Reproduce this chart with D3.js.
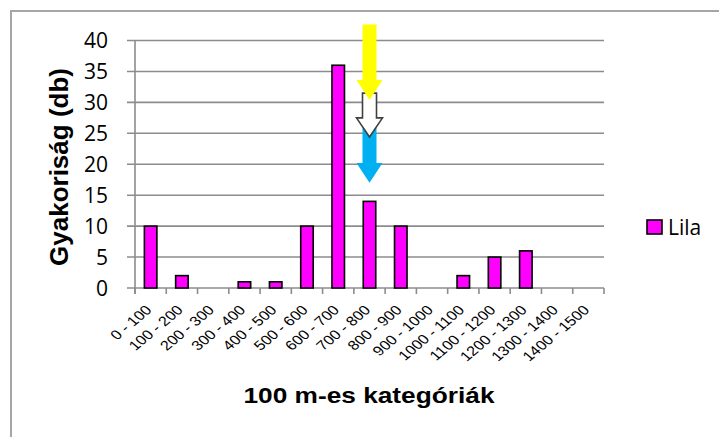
<!DOCTYPE html>
<html>
<head>
<meta charset="utf-8">
<script src="https://cdn.jsdelivr.net/npm/d3@7"></script>
<style>
  body { margin: 0; background: #fff; }
  svg { display: block; }
</style>
</head>
<body>
<script>
// categories on the x axis
const categories = [
  "0 - 100", "100 - 200", "200 - 300", "300 - 400", "400 - 500",
  "500 - 600", "600 - 700", "700 - 800", "800 - 900", "900 - 1000",
  "1000 - 1100", "1100 - 1200", "1200 - 1300", "1300 - 1400", "1400 - 1500",
];
// Lila counts
const counts = [10, 2, 0, 1, 1, 10, 36, 14, 10, 0, 2, 5, 6, 0, 0];
const yTicks = [0, 5, 10, 15, 20, 25, 30, 35, 40];
const seriesName = "Lila";
const yTitle = "Gyakoriság (db)";
const xTitle = "100 m-es kategóriák";

// annotation arrows, in y units: shaft top, head start, tip
const arrowCats = ["700 - 800", "700 - 800", "700 - 800"];
const arrowTop = [26.0, 31.5, 42.6];
const arrowNeck = [20.2, 27.5, 33.6];
const arrowTip = [17.0, 24.4, 30.4];

const W = 719, H = 437;
const margin = { top: 40.5, right: 115, bottom: 149, left: 135 };

const svg = d3.select("body").append("svg")
  .attr("width", W)
  .attr("height", H);

// outer frame of the chart area
svg.append("rect")
  .attr("x", 11).attr("y", 11)
  .attr("width", 730).attr("height", 450)
  .attr("fill", "#fff")
  .attr("stroke", "#a6a6a6")
  .attr("stroke-width", 2);

const x = d3.scaleBand()
  .domain(categories)
  .range([margin.left, W - margin.right]);

const y = d3.scaleLinear()
  .domain([0, 40])
  .range([H - margin.bottom, margin.top]);

const gridColor = "#8c8c8c";

// gridlines + y tick marks
svg.append("g")
  .selectAll("line")
  .data(yTicks)
  .join("line")
  .attr("x1", margin.left - 8)
  .attr("x2", W - margin.right)
  .attr("y1", (d) => y(d))
  .attr("y2", (d) => y(d))
  .attr("stroke", gridColor)
  .attr("stroke-width", 1.6);

// y axis line
svg.append("line")
  .attr("x1", margin.left).attr("x2", margin.left)
  .attr("y1", y(40)).attr("y2", y(0) + 6)
  .attr("stroke", gridColor)
  .attr("stroke-width", 1.6);

// x tick marks at band edges
const edges = categories.map((c) => x(c)).concat([x.range()[1]]);
svg.append("g")
  .selectAll("line")
  .data(edges)
  .join("line")
  .attr("x1", (d) => d).attr("x2", (d) => d)
  .attr("y1", y(0)).attr("y2", y(0) + 6)
  .attr("stroke", gridColor)
  .attr("stroke-width", 1.6);

// y tick labels
svg.append("g")
  .selectAll("text")
  .data(yTicks)
  .join("text")
  .attr("x", 108)
  .attr("y", (d) => y(d))
  .attr("dy", "0.36em")
  .attr("text-anchor", "end")
  .style("font-family", "'Open Sans', sans-serif")
  .style("font-size", "21px")
  .attr("fill", "#000")
  .text((d) => d);

// bars
const barW = x.bandwidth() * 0.4;
svg.append("g")
  .selectAll("rect")
  .data(counts)
  .join("rect")
  .attr("x", (d, i) => x(categories[i]) + (x.bandwidth() - barW) / 2)
  .attr("width", barW)
  .attr("y", (d) => y(d))
  .attr("height", (d) => y(0) - y(d))
  .attr("fill", "#ff00ff")
  .attr("stroke", "#000")
  .attr("stroke-width", (d) => (d > 0 ? 1.6 : 0));

// x tick labels, rotated (the original picture is a bit stretched sideways)
svg.append("g")
  .selectAll("text")
  .data(categories)
  .join("text")
  .attr("transform", (d) => "translate(" + (x(d) + x.bandwidth() / 2 + 2) + "," + (y(0) + 23) + ") scale(1.2,1) rotate(-45)")
  .attr("text-anchor", "end")
  .style("font-family", "'Liberation Sans', Arial, sans-serif")
  .style("font-size", "13.5px")
  .attr("fill", "#000")
  .text((d) => d);

// axis titles
svg.append("text")
  .attr("transform", "translate(68,167) rotate(-90)")
  .attr("text-anchor", "middle")
  .style("font-family", "'Liberation Sans', Arial, sans-serif")
  .style("font-size", "26px")
  .style("font-weight", "bold")
  .text(yTitle);

svg.append("text")
  .attr("x", 369)
  .attr("y", 403)
  .attr("text-anchor", "middle")
  .attr("textLength", 251)
  .attr("lengthAdjust", "spacingAndGlyphs")
  .style("font-family", "'Liberation Sans', Arial, sans-serif")
  .style("font-size", "22px")
  .style("font-weight", "bold")
  .text(xTitle);

// arrows (drawn blue, white, yellow so yellow sits on top)
const arrowFill = ["#00b0f0", "#ffffff", "#ffff00"];
const arrowStroke = ["none", "#404040", "none"];
const shaftHalf = 7, headHalf = 13;
arrowCats.forEach((c, i) => {
  const cx = x(c) + x.bandwidth() / 2;
  const t = y(arrowTop[i]), n = y(arrowNeck[i]), p = y(arrowTip[i]);
  const pts = [
    [cx - shaftHalf, t], [cx + shaftHalf, t], [cx + shaftHalf, n],
    [cx + headHalf, n], [cx, p], [cx - headHalf, n], [cx - shaftHalf, n],
  ];
  svg.append("path")
    .attr("d", d3.line()(pts) + "Z")
    .attr("fill", arrowFill[i])
    .attr("stroke", arrowStroke[i])
    .attr("stroke-width", 1.6)
    .attr("stroke-linejoin", "miter");
});

// legend
svg.append("rect")
  .attr("x", 647).attr("y", 220)
  .attr("width", 15).attr("height", 14)
  .attr("fill", "#ff00ff")
  .attr("stroke", "#000")
  .attr("stroke-width", 1.6);

svg.append("text")
  .attr("x", 668)
  .attr("y", 227)
  .attr("dy", "0.36em")
  .style("font-family", "'Open Sans', sans-serif")
  .style("font-size", "21px")
  .text(seriesName);
</script>
</body>
</html>
